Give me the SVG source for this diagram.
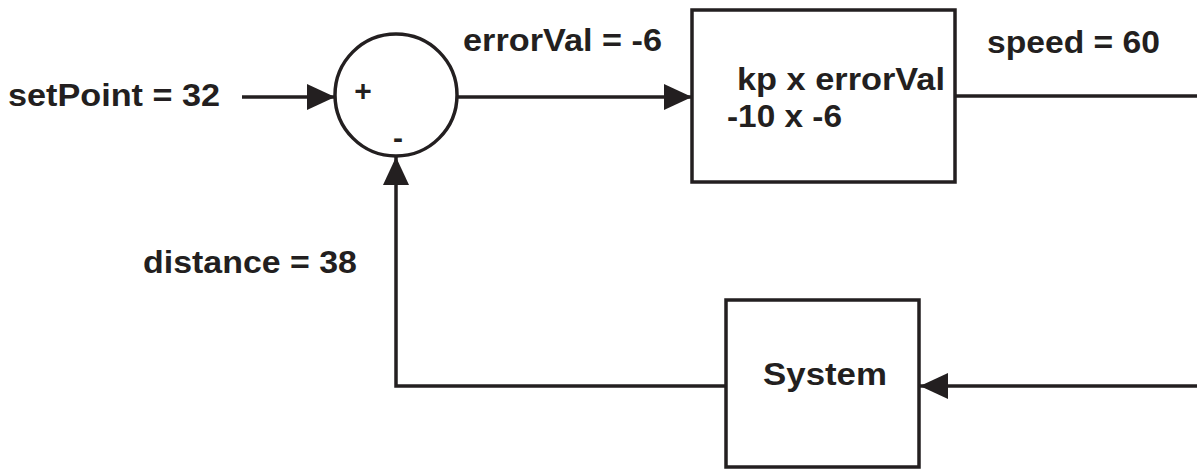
<svg xmlns="http://www.w3.org/2000/svg" width="1197" height="470" viewBox="0 0 1197 470">
<style>
  .ln { fill: none; stroke: #231f20; stroke-width: 3.5; }
  .box { fill: #ffffff; stroke: #231f20; stroke-width: 3.5; }
  .t { font-family: "Liberation Sans", Arial, sans-serif; font-weight: bold; font-size: 31px; fill: #231f20; }
  .s { font-family: "Liberation Sans", Arial, sans-serif; font-weight: bold; font-size: 30px; fill: #231f20; text-anchor: middle; }
</style>
<defs>
  <marker id="arr" viewBox="0 0 28 26" refX="28" refY="13" markerWidth="28" markerHeight="26" markerUnits="userSpaceOnUse" orient="auto">
    <path d="M0,0 L28,13 L0,26 Z" fill="#231f20"/>
  </marker>
</defs>
<rect width="1197" height="470" fill="#ffffff"/>
<g id="connectors">
  <line class="ln" x1="242" y1="97" x2="335" y2="97" marker-end="url(#arr)"/>
  <line class="ln" x1="457" y1="97" x2="692" y2="97" marker-end="url(#arr)"/>
  <line class="ln" x1="955" y1="96" x2="1197" y2="96"/>
  <line class="ln" x1="1197" y1="386" x2="920" y2="386" marker-end="url(#arr)"/>
  <polyline class="ln" points="726,386 396,386 396,157" marker-end="url(#arr)"/>
</g>
<g id="labels">
  <text class="t" x="8" y="106" textLength="212" lengthAdjust="spacingAndGlyphs">setPoint = 32</text>
  <text class="t" x="463" y="51" textLength="199" lengthAdjust="spacingAndGlyphs">errorVal = -6</text>
  <text class="t" x="987" y="53" textLength="173" lengthAdjust="spacingAndGlyphs">speed = 60</text>
  <text class="t" x="143" y="273" textLength="214" lengthAdjust="spacingAndGlyphs">distance = 38</text>
</g>
<g id="sum">
  <circle class="box" cx="396" cy="95" r="61"/>
  <text class="s" x="363" y="101">+</text>
  <text class="s" x="398" y="148">-</text>
</g>
<g id="controller">
  <rect class="box" x="692" y="10" width="263" height="172"/>
  <text class="t" x="737" y="90" textLength="208" lengthAdjust="spacingAndGlyphs">kp x errorVal</text>
  <text class="t" x="727" y="127" textLength="115" lengthAdjust="spacingAndGlyphs">-10 x -6</text>
</g>
<g id="system">
  <rect class="box" x="726" y="300" width="193" height="167"/>
  <text class="t" x="763" y="385" textLength="124" lengthAdjust="spacingAndGlyphs">System</text>
</g>
</svg>
